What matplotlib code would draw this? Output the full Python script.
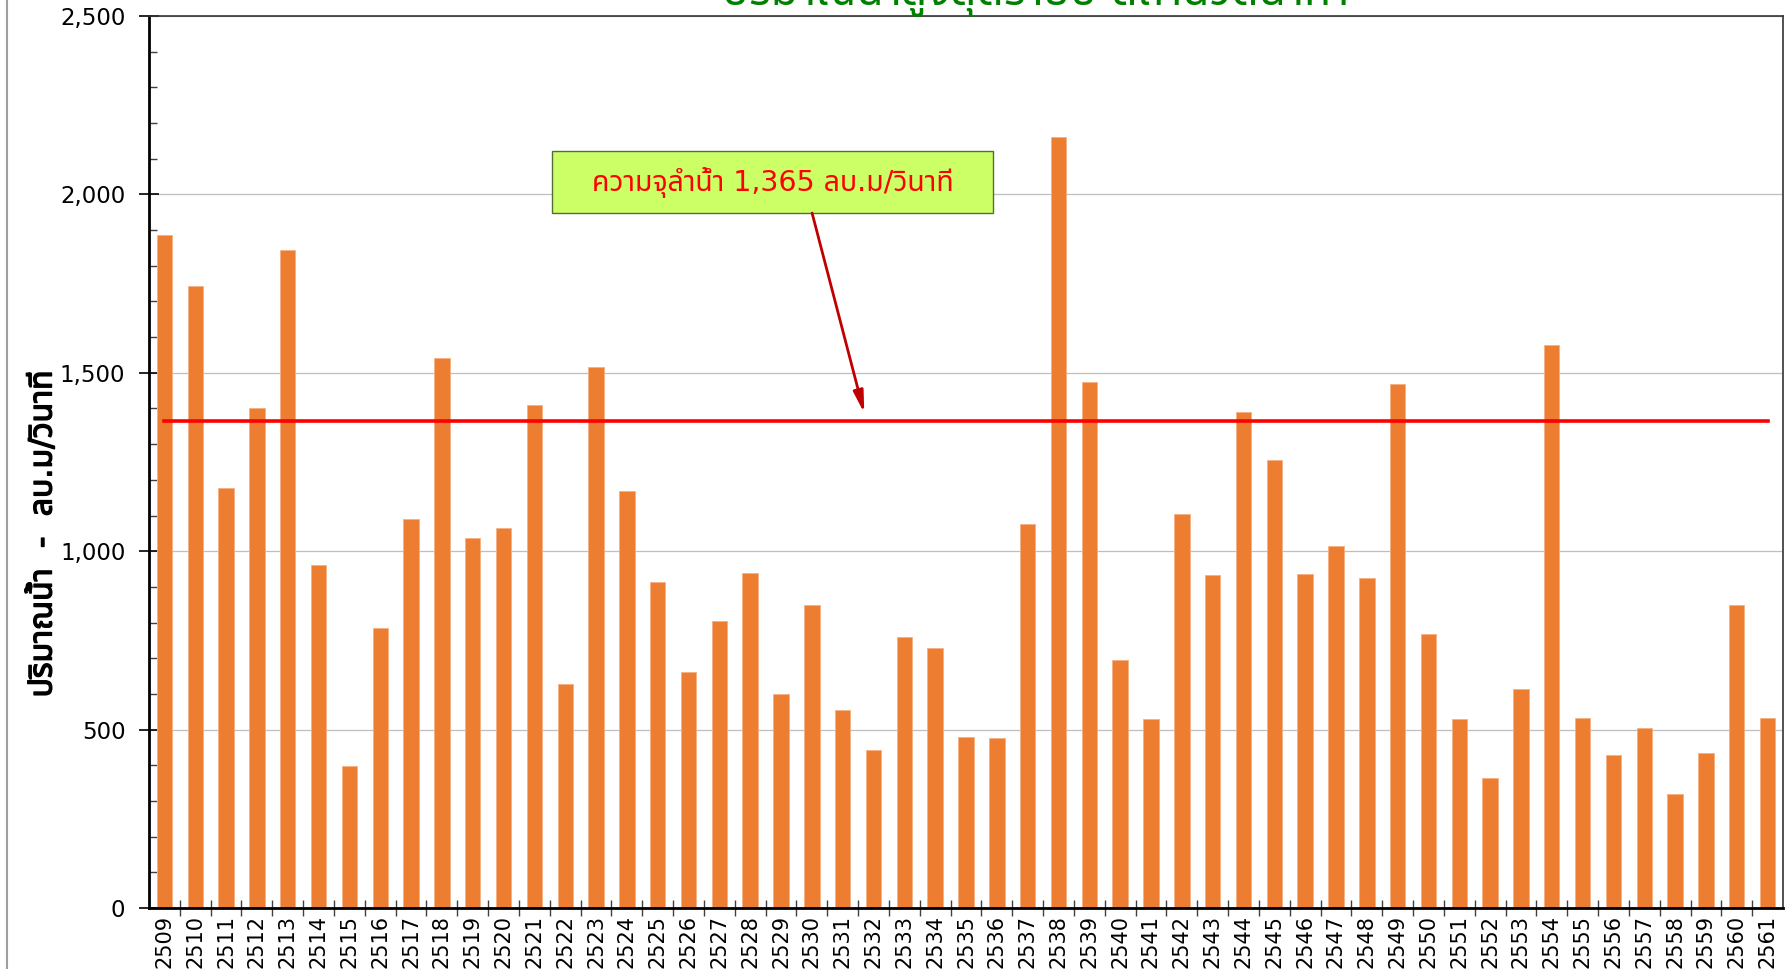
import matplotlib
matplotlib.use("Agg")
import matplotlib.pyplot as plt
from matplotlib.ticker import MultipleLocator, FuncFormatter
from matplotlib.lines import Line2D
from matplotlib.patches import Rectangle
import matplotlib.patheffects as pe

# fonts: DejaVu for digits, Thai glyphs from a Thai family
thai_fonts = ['DejaVu Sans', 'Noto Sans Thai', 'Sarabun', 'Tahoma']
plt.rcParams['font.family'] = thai_fonts

years = list(range(2509, 2562))
flow = [1887, 1743, 1178, 1402, 1845, 961, 399, 785, 1089, 1542,
        1038, 1066, 1411, 629, 1517, 1169, 913, 661, 805, 939,
        600, 849, 556, 444, 760, 728, 479, 476, 1076, 2162,
        1475, 696, 530, 1105, 932, 1389, 1255, 936, 1015, 926,
        1469, 769, 530, 364, 613, 1577, 533, 428, 504, 319,
        434, 849, 533]
capacity = 1365
cap_text = "ความจุลำน้ำ 1,365 ลบ.ม/วินาที"
y_label = "ปริมาณน้ำ  -  ลบ.ม/วินาที"
title = "ปริมาณน้ำสูงสุดรายปี สถานีวัดน้ำท่า"   # only the bottom edge shows in the original

fig = plt.figure(figsize=(17.85, 9.69), dpi=100)
ax = fig.add_axes([149/1785, 1 - 908/969, (1783 - 149)/1785, (908 - 16)/969])

x = list(range(len(years)))
ax.bar(x, flow, width=0.5, color='#ED7D31', edgecolor='#F4B183', linewidth=0.6, zorder=2)
ax.plot([x[0], x[-1]], [capacity, capacity], color='#FF0000', lw=2.6, zorder=3)

ax.set_xlim(-0.5, len(years) - 0.5)
ax.set_ylim(0, 2500)

ax.yaxis.set_major_locator(MultipleLocator(500))
ax.yaxis.set_minor_locator(MultipleLocator(100))
ax.yaxis.set_major_formatter(FuncFormatter(lambda v, p: f"{int(v):,}"))
ax.grid(axis='y', which='major', color='#BFBFBF', lw=0.9, zorder=0)
ax.set_axisbelow(True)

ax.set_xticks(x)
ax.set_xticklabels([str(y) for y in years], rotation=90, fontsize=15)
ax.set_xticks([i + 0.5 for i in x[:-1]], minor=True)
ax.tick_params(axis='x', which='major', length=0, pad=5)
ax.tick_params(axis='x', which='minor', direction='inout', length=12, width=1.0, color='#404040')
ax.tick_params(axis='y', which='major', direction='inout', length=14, width=1.2, labelsize=16.5, pad=10)
ax.tick_params(axis='y', which='minor', direction='in', length=6, width=1.0, color='#404040')

for s in ['left', 'bottom']:
    ax.spines[s].set_linewidth(2.0)
    ax.spines[s].set_color('black')
for s in ['top', 'right']:
    ax.spines[s].set_linewidth(1.2)
    ax.spines[s].set_color('#333333')

# y label, placed like the reference (below the axes centre)
fig.text(43/1785, 1 - 534/969, y_label, rotation=90, fontsize=23, ha='center', va='center',
         path_effects=[pe.withStroke(linewidth=1.0, foreground='black')])

# annotation box and arrow
ax.add_patch(Rectangle((0.2466, 0.7791), 0.2699, 0.0696, transform=ax.transAxes,
                       facecolor='#CCFF66', edgecolor='#5A6B3A', lw=1.0, zorder=5))
ax.text(0.3815, 0.8139, cap_text, transform=ax.transAxes, fontsize=20.5, color='#FF0000',
        ha='center', va='center', zorder=6)
ax.annotate("", xy=(22.7, 1387), xycoords='data',
            xytext=(0.4058, 0.7791), textcoords='axes fraction',
            arrowprops=dict(arrowstyle='-|>,head_length=1.3,head_width=0.3', color='#C00000', lw=2.0,
                            shrinkA=0, shrinkB=0),
            zorder=5)

# clipped title at the top
fig.text(1036/1785, 1 - 5/969, title, color='#008000', fontsize=32, fontweight='bold',
         ha='center', va='baseline')

# chart border on the left
fig.add_artist(Line2D([7/1785, 7/1785], [0, 1], color='#A0A0A0', lw=1.5, transform=fig.transFigure))

fig.savefig("out.png", dpi=100)
